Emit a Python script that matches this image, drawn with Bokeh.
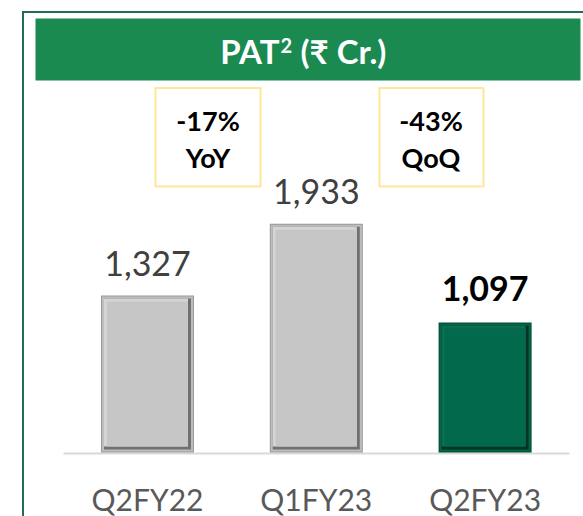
from bokeh.plotting import figure
from bokeh.models import Range1d, ColumnDataSource
from bokeh.embed import file_html
from bokeh.resources import INLINE
from bokeh.core.properties import value

# ---------------- data ----------------
categories = ["Q2FY22", "Q1FY23", "Q2FY23"]
pat_values = [1327, 1933, 1097]
value_labels = ["1,327", "1,933", "1,097"]
highlight = [False, False, True]
change_values = ["-17%", "-43%"]
change_labels = ["YoY", "QoQ"]
title_main = "PAT"
title_sup = "2"
title_rest = "(\u20b9 Cr.)"

# ---------------- geometry helpers ----------------
W, H = 583, 516
MARGIN = 0
CAT0_PX = 147.0
CAT_STEP_PX = 168.8
ZERO_PX = 452.0
PX_PER_UNIT = 0.1184
FONT = "Lato"


def dx(px):
    return px / CAT_STEP_PX


def dy(px):
    return px / PX_PER_UNIT


def X(ix):
    return (ix - CAT0_PX) / CAT_STEP_PX


def Y(iy):
    return (ZERO_PX - iy) / PX_PER_UNIT


p = figure(width=W, height=H,
           x_range=Range1d(X(MARGIN), X(MARGIN + W)),
           y_range=Range1d(Y(MARGIN + H), Y(MARGIN)),
           x_axis_type=None, y_axis_type=None,
           output_backend="svg", toolbar_location=None,
           min_border=0, min_border_left=0, min_border_right=0,
           min_border_top=0, min_border_bottom=0)
p.grid.visible = False
p.outline_line_color = None
p.background_fill_color = "white"
p.border_fill_color = "white"

# outer frame (left + top border)
p.line([X(22.5), X(22.5), X(600)], [Y(530), Y(11.5), Y(11.5)],
       line_color="#1E6E55", line_width=2, line_join="miter")

# header band
p.quad(left=[X(35)], right=[X(580)], top=[Y(18)], bottom=[Y(80)],
       fill_color="#1B8A51", line_color=None)

# title
p.text(x=[X(279)], y=[Y(50)], text=[title_main], text_align="right",
       text_baseline="middle", text_font=value(FONT),
       text_font_style="bold", text_font_size="33px", text_color="white")
p.text(x=[X(280)], y=[Y(45)], text=[title_sup], text_align="left",
       text_baseline="middle", text_font=value(FONT),
       text_font_style="bold", text_font_size="20px", text_color="white")
p.text(x=[X(300)], y=[Y(50)], text=[title_rest], text_align="left",
       text_baseline="middle", text_font=value(FONT),
       text_font_style="bold", text_font_size="33px", text_color="white")

# baseline
p.line([X(63), X(569)], [0 - dy(1), 0 - dy(1)], line_color="#D9D9D9", line_width=2)

# bars with bevel layers
xs = list(range(len(categories)))
bw = dx(93)


def layer(l, r, t, b, gray_col, green_col):
    src = ColumnDataSource(dict(
        left=[x - bw / 2 + dx(l) for x in xs],
        right=[x + bw / 2 - dx(r) for x in xs],
        top=[v - dy(t) for v in pat_values],
        bottom=[0 + dy(b) for _ in pat_values],
        color=[green_col if h else gray_col for h in highlight],
    ))
    p.quad(left="left", right="right", top="top", bottom="bottom",
           fill_color="color", line_color=None, source=src)


layer(0, 0, 0, 0, "#9A9A9A", "#004A35")
layer(1, 1, 1, 1, "#BDBDBD", "#036448")
layer(3, 3, 3, 3, "#707070", "#003524")
layer(3, 6, 3, 6, "#D4D4D4", "#0A6F51")
layer(6, 6, 6, 6, "#C6C6C6", "#02694D")

# value labels
reg = [i for i, h in enumerate(highlight) if not h]
hil = [i for i, h in enumerate(highlight) if h]
p.text(x=[xs[i] for i in reg], y=[pat_values[i] + dy(32) for i in reg],
       text=[value_labels[i] for i in reg], text_align="center",
       text_baseline="middle", text_font=value(FONT),
       text_font_size="34px", text_color="#404040")
p.text(x=[xs[i] for i in hil], y=[pat_values[i] + dy(34) for i in hil],
       text=[value_labels[i] for i in hil], text_align="center",
       text_baseline="middle", text_font=value(FONT),
       text_font_style="bold", text_font_size="34px", text_color="#000000")

# category labels
p.text(x=xs, y=[Y(498)] * len(xs), text=categories, text_align="center",
       text_baseline="middle", text_font=value(FONT),
       text_font_size="30px", text_color="#595959")

# change boxes
box_cx = [X(207.5), X(430.5)]
p.quad(left=[X(155), X(379)], right=[X(260), X(483)],
       top=[Y(87.5)] * 2, bottom=[Y(186)] * 2,
       fill_color="white", line_color="#FFE699", line_width=2)
p.text(x=box_cx, y=[Y(120)] * 2, text=change_values, text_align="center",
       text_baseline="middle", text_font=value(FONT),
       text_font_style="bold", text_font_size="27px", text_color="#000000")
p.text(x=box_cx, y=[Y(157)] * 2, text=change_labels, text_align="center",
       text_baseline="middle", text_font=value(FONT),
       text_font_style="bold", text_font_size="27px", text_color="#000000")

open("out.html", "w").write(file_html(p, INLINE))
